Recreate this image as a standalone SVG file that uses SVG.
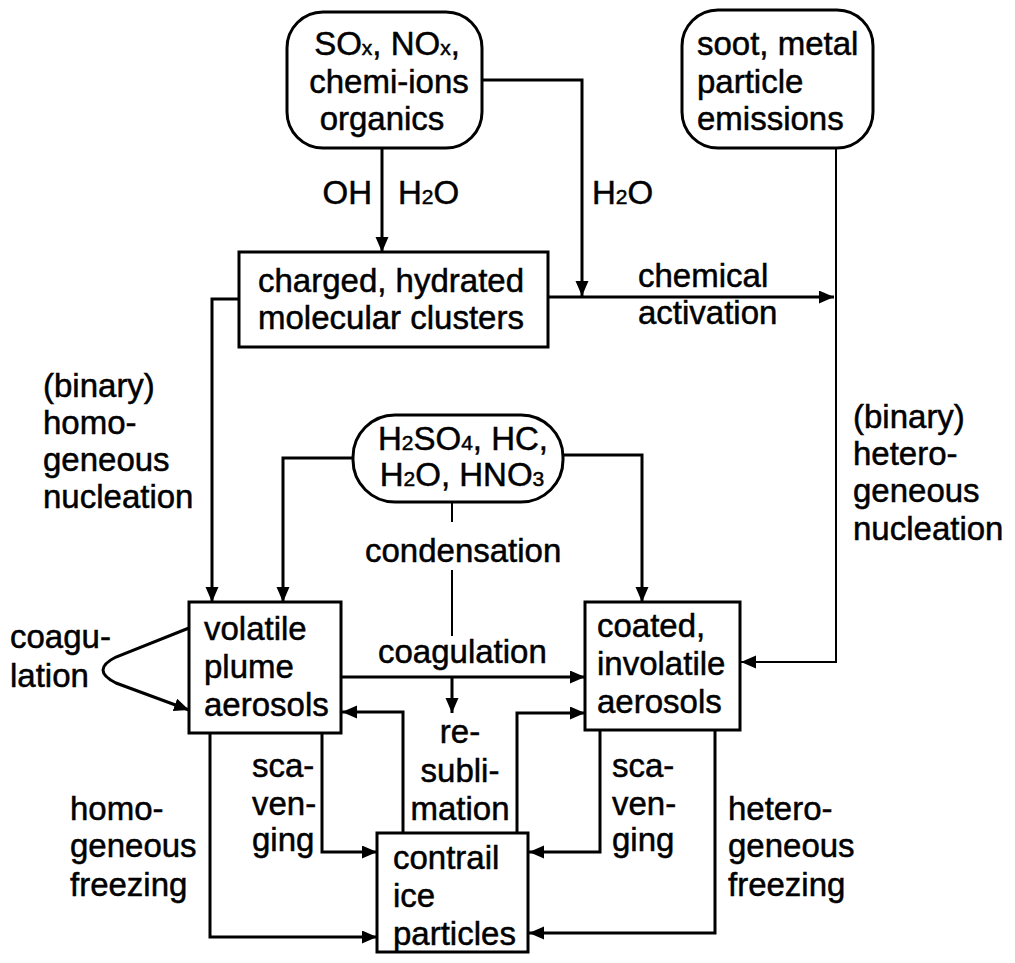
<svg xmlns="http://www.w3.org/2000/svg" width="1015" height="963" viewBox="0 0 1015 963">
<defs>
<marker id="ah" markerUnits="userSpaceOnUse" markerWidth="16" markerHeight="14" refX="15" refY="6.5" orient="auto">
<path d="M0,0 L15,6.5 L0,13 z" fill="#000"/>
</marker>
<style>
.box{fill:#fff;stroke:#000;stroke-width:3}
.ln{fill:none;stroke:#000;stroke-width:3}
.thin{fill:none;stroke:#000;stroke-width:2}
.ar{marker-end:url(#ah)}
text{font-family:"Liberation Sans",Arial,sans-serif;font-size:33px;fill:#000;stroke:#000;stroke-width:0.5}
.c{text-anchor:middle}
.r{text-anchor:end}
.s{font-size:21px}
</style>
</defs>
<rect width="1015" height="963" fill="#fff"/>

<g id="connectors">
<path class="ln ar" d="M382,148 V252"/>
<path class="ln ar" d="M482,80 H582 V296"/>
<path class="ln ar" d="M548,297 H834"/>
<path class="thin ar" d="M836,148 V662 H741"/>
<path class="ln ar" d="M239,299 H212 V602"/>
<path class="ln ar" d="M353,458 H283 V602"/>
<path class="ln ar" d="M563,455 H642 V602"/>
<path class="thin" d="M452,502 V522 M452,570 V636"/>
<path class="ln ar" d="M452,677 V713"/>
<path class="ln ar" d="M341,677 H585"/>
<path class="ln ar" d="M517,833 V713 H585"/>
<path class="ln ar" d="M403,833 V712 H342"/>
<path class="ln ar" d="M322,733 V852 H377"/>
<path class="ln ar" d="M210,733 V937 H377"/>
<path class="ln ar" d="M600,730 V852 H529"/>
<path class="ln ar" d="M715,730 V933 H529"/>
<path class="ln ar" d="M189,628 L116,657 Q90,670 116,683 L189,710"/>
</g>

<g id="n-sox">
<rect class="box" x="287" y="12" width="195" height="136" rx="36"/>
<text class="c" x="387" y="55">SO<tspan class="s">x</tspan>, NO<tspan class="s">x</tspan>,</text>
<text class="c" x="389" y="93">chemi-ions</text>
<text class="c" x="382" y="130">organics</text>
</g>

<g id="n-soot">
<rect class="box" x="682" y="10" width="191" height="138" rx="36"/>
<text x="697" y="55">soot, metal</text>
<text x="697" y="93">particle</text>
<text x="697" y="130">emissions</text>
</g>

<g id="n-clusters">
<rect class="box" x="239" y="252" width="309" height="95"/>
<text x="258" y="292">charged, hydrated</text>
<text x="258" y="329">molecular clusters</text>
</g>

<g id="n-h2so4">
<rect class="box" x="353" y="415" width="210" height="87" rx="42"/>
<text class="c" x="463" y="450">H<tspan class="s">2</tspan>SO<tspan class="s">4</tspan>, HC,</text>
<text class="c" x="462" y="486">H<tspan class="s">2</tspan>O, HNO<tspan class="s">3</tspan></text>
</g>

<g id="n-volatile">
<rect class="box" x="189" y="602" width="152" height="131"/>
<text x="204" y="640">volatile</text>
<text x="204" y="678">plume</text>
<text x="204" y="716">aerosols</text>
</g>

<g id="n-coated">
<rect class="box" x="585" y="602" width="155" height="128"/>
<text x="597" y="637">coated,</text>
<text x="597" y="675">involatile</text>
<text x="597" y="713">aerosols</text>
</g>

<g id="n-contrail">
<rect class="box" x="377" y="833" width="151" height="119"/>
<text x="393" y="869">contrail</text>
<text x="393" y="907">ice</text>
<text x="393" y="945">particles</text>
</g>

<g id="labels">
<text class="r" x="372" y="204">OH</text>
<text x="398" y="204">H<tspan class="s">2</tspan>O</text>
<text x="592" y="204">H<tspan class="s">2</tspan>O</text>
<text x="638" y="287">chemical</text>
<text x="638" y="324">activation</text>
<text x="43" y="397">(binary)</text>
<text x="43" y="434">homo-</text>
<text x="43" y="471">geneous</text>
<text x="43" y="508">nucleation</text>
<text x="853" y="428">(binary)</text>
<text x="853" y="465">hetero-</text>
<text x="853" y="502">geneous</text>
<text x="853" y="540">nucleation</text>
<text x="365" y="562">condensation</text>
<text x="378" y="663">coagulation</text>
<text x="10" y="648">coagu-</text>
<text x="10" y="687">lation</text>
<text class="c" x="460" y="743">re-</text>
<text class="c" x="460" y="782">subli-</text>
<text class="c" x="460" y="820">mation</text>
<text x="252" y="777">sca-</text>
<text x="252" y="815">ven-</text>
<text x="252" y="851">ging</text>
<text x="612" y="777">sca-</text>
<text x="612" y="815">ven-</text>
<text x="612" y="851">ging</text>
<text x="70" y="820">homo-</text>
<text x="70" y="857">geneous</text>
<text x="70" y="896">freezing</text>
<text x="728" y="820">hetero-</text>
<text x="728" y="857">geneous</text>
<text x="728" y="896">freezing</text>
</g>
</svg>
